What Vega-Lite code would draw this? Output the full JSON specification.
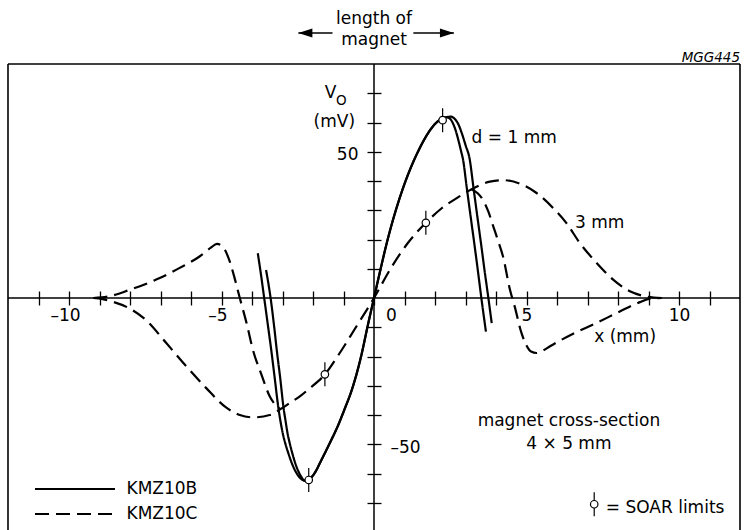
{
  "$schema": "https://vega.github.io/schema/vega-lite/v6.json",
  "width": 732,
  "height": 466,
  "autosize": {"type": "none"},
  "padding": {"left": 8, "top": 64, "right": 4, "bottom": 0},
  "background": "white",
  "config": {
    "font": "DejaVu Sans",
    "view": {"stroke": null},
    "text": {"font": "DejaVu Sans", "fontSize": 17, "color": "black"},
    "axis": {
      "domain": false, "grid": false, "title": null,
      "tickSize": 14, "tickWidth": 1.3, "tickColor": "black",
      "labelFont": "DejaVu Sans", "labelFontSize": 17, "labelColor": "black",
      "labelOverlap": false, "labelBound": false, "labelFlush": false
    }
  },
  "datasets": {
    "curves": [
      {"s":"B1","t":"KMZ10B","x":-3.81,"y":15.3},{"s":"B1","t":"KMZ10B","x":-3.70,"y":7.6},{"s":"B1","t":"KMZ10B","x":-3.60,"y":0},{"s":"B1","t":"KMZ10B","x":-3.48,"y":-9.2},{"s":"B1","t":"KMZ10B","x":-3.36,"y":-18.5},{"s":"B1","t":"KMZ10B","x":-3.25,"y":-27.8},{"s":"B1","t":"KMZ10B","x":-3.14,"y":-37.2},{"s":"B1","t":"KMZ10B","x":-3.06,"y":-42.5},{"s":"B1","t":"KMZ10B","x":-2.98,"y":-46.8},{"s":"B1","t":"KMZ10B","x":-2.90,"y":-50.0},{"s":"B1","t":"KMZ10B","x":-2.81,"y":-53.0},{"s":"B1","t":"KMZ10B","x":-2.70,"y":-56.3},{"s":"B1","t":"KMZ10B","x":-2.57,"y":-59.3},{"s":"B1","t":"KMZ10B","x":-2.43,"y":-61.4},{"s":"B1","t":"KMZ10B","x":-2.28,"y":-62.4},
      {"s":"B1","t":"KMZ10B","x":-2.13,"y":-62.0},{"s":"B1","t":"KMZ10B","x":-1.95,"y":-59.9},{"s":"B1","t":"KMZ10B","x":-1.73,"y":-55.5},{"s":"B1","t":"KMZ10B","x":-1.45,"y":-49.6},{"s":"B1","t":"KMZ10B","x":-1.18,"y":-43.6},{"s":"B1","t":"KMZ10B","x":-0.95,"y":-37.6},{"s":"B1","t":"KMZ10B","x":-0.74,"y":-31.8},{"s":"B1","t":"KMZ10B","x":-0.42,"y":-19.8},{"s":"B1","t":"KMZ10B","x":-0.2,"y":-9.2},{"s":"B1","t":"KMZ10B","x":0,"y":0},{"s":"B1","t":"KMZ10B","x":0.2,"y":9.2},{"s":"B1","t":"KMZ10B","x":0.46,"y":20.5},{"s":"B1","t":"KMZ10B","x":0.79,"y":32.5},{"s":"B1","t":"KMZ10B","x":1.0,"y":39.0},{"s":"B1","t":"KMZ10B","x":1.22,"y":44.9},{"s":"B1","t":"KMZ10B","x":1.45,"y":50.2},{"s":"B1","t":"KMZ10B","x":1.66,"y":54.4},{"s":"B1","t":"KMZ10B","x":1.86,"y":57.7},{"s":"B1","t":"KMZ10B","x":2.05,"y":60.0},{"s":"B1","t":"KMZ10B","x":2.21,"y":61.2},{"s":"B1","t":"KMZ10B","x":2.37,"y":61.8},
      {"s":"B1","t":"KMZ10B","x":2.52,"y":62.0},{"s":"B1","t":"KMZ10B","x":2.65,"y":61.2},{"s":"B1","t":"KMZ10B","x":2.77,"y":59.3},{"s":"B1","t":"KMZ10B","x":2.88,"y":56.3},{"s":"B1","t":"KMZ10B","x":3.0,"y":52.3},{"s":"B1","t":"KMZ10B","x":3.14,"y":47.3},{"s":"B1","t":"KMZ10B","x":3.26,"y":37.8},{"s":"B1","t":"KMZ10B","x":3.38,"y":28.5},{"s":"B1","t":"KMZ10B","x":3.50,"y":19.3},{"s":"B1","t":"KMZ10B","x":3.62,"y":9.8},{"s":"B1","t":"KMZ10B","x":3.75,"y":0},{"s":"B1","t":"KMZ10B","x":3.86,"y":-8.6},

      {"s":"B2","t":"KMZ10B","x":-3.54,"y":9.6},{"s":"B2","t":"KMZ10B","x":-3.46,"y":4.8},{"s":"B2","t":"KMZ10B","x":-3.39,"y":0},{"s":"B2","t":"KMZ10B","x":-3.28,"y":-9.2},{"s":"B2","t":"KMZ10B","x":-3.18,"y":-18.5},{"s":"B2","t":"KMZ10B","x":-3.07,"y":-27.8},{"s":"B2","t":"KMZ10B","x":-2.97,"y":-37.2},{"s":"B2","t":"KMZ10B","x":-2.90,"y":-42.0},{"s":"B2","t":"KMZ10B","x":-2.83,"y":-46.5},{"s":"B2","t":"KMZ10B","x":-2.76,"y":-49.8},{"s":"B2","t":"KMZ10B","x":-2.68,"y":-53.0},{"s":"B2","t":"KMZ10B","x":-2.59,"y":-56.2},{"s":"B2","t":"KMZ10B","x":-2.49,"y":-59.0},{"s":"B2","t":"KMZ10B","x":-2.38,"y":-61.2},{"s":"B2","t":"KMZ10B","x":-2.28,"y":-62.4},
      {"s":"B2","t":"KMZ10B","x":-2.13,"y":-62.0},{"s":"B2","t":"KMZ10B","x":-1.95,"y":-59.9},{"s":"B2","t":"KMZ10B","x":-1.73,"y":-55.5},{"s":"B2","t":"KMZ10B","x":-1.45,"y":-49.6},{"s":"B2","t":"KMZ10B","x":-1.18,"y":-43.6},{"s":"B2","t":"KMZ10B","x":-0.95,"y":-37.6},{"s":"B2","t":"KMZ10B","x":-0.74,"y":-31.8},{"s":"B2","t":"KMZ10B","x":-0.42,"y":-19.8},{"s":"B2","t":"KMZ10B","x":-0.2,"y":-9.2},{"s":"B2","t":"KMZ10B","x":0,"y":0},{"s":"B2","t":"KMZ10B","x":0.2,"y":9.2},{"s":"B2","t":"KMZ10B","x":0.46,"y":20.5},{"s":"B2","t":"KMZ10B","x":0.79,"y":32.5},{"s":"B2","t":"KMZ10B","x":1.0,"y":39.0},{"s":"B2","t":"KMZ10B","x":1.22,"y":44.9},{"s":"B2","t":"KMZ10B","x":1.45,"y":50.2},{"s":"B2","t":"KMZ10B","x":1.66,"y":54.4},{"s":"B2","t":"KMZ10B","x":1.86,"y":57.7},{"s":"B2","t":"KMZ10B","x":2.05,"y":60.0},{"s":"B2","t":"KMZ10B","x":2.21,"y":61.2},{"s":"B2","t":"KMZ10B","x":2.37,"y":61.8},
      {"s":"B2","t":"KMZ10B","x":2.48,"y":61.4},{"s":"B2","t":"KMZ10B","x":2.58,"y":59.9},{"s":"B2","t":"KMZ10B","x":2.68,"y":57.2},{"s":"B2","t":"KMZ10B","x":2.78,"y":53.4},{"s":"B2","t":"KMZ10B","x":2.86,"y":50.0},{"s":"B2","t":"KMZ10B","x":2.92,"y":47.3},{"s":"B2","t":"KMZ10B","x":3.04,"y":37.8},{"s":"B2","t":"KMZ10B","x":3.16,"y":28.5},{"s":"B2","t":"KMZ10B","x":3.28,"y":19.3},{"s":"B2","t":"KMZ10B","x":3.40,"y":9.8},{"s":"B2","t":"KMZ10B","x":3.52,"y":0},{"s":"B2","t":"KMZ10B","x":3.67,"y":-11.5},

      {"s":"D1","t":"KMZ10C","x":-9.2,"y":0},{"s":"D1","t":"KMZ10C","x":-8.9,"y":-0.4},{"s":"D1","t":"KMZ10C","x":-8.56,"y":-1.3},{"s":"D1","t":"KMZ10C","x":-8.01,"y":-3.6},{"s":"D1","t":"KMZ10C","x":-7.47,"y":-7.6},{"s":"D1","t":"KMZ10C","x":-6.81,"y":-15.4},{"s":"D1","t":"KMZ10C","x":-6.15,"y":-23.4},{"s":"D1","t":"KMZ10C","x":-5.5,"y":-30.8},{"s":"D1","t":"KMZ10C","x":-4.84,"y":-37.5},{"s":"D1","t":"KMZ10C","x":-4.4,"y":-40.0},{"s":"D1","t":"KMZ10C","x":-3.97,"y":-40.8},{"s":"D1","t":"KMZ10C","x":-3.42,"y":-40.0},{"s":"D1","t":"KMZ10C","x":-3.04,"y":-37.8},{"s":"D1","t":"KMZ10C","x":-2.75,"y":-35.8},{"s":"D1","t":"KMZ10C","x":-2.4,"y":-33.4},{"s":"D1","t":"KMZ10C","x":-2.16,"y":-31.3},{"s":"D1","t":"KMZ10C","x":-1.61,"y":-26.1},{"s":"D1","t":"KMZ10C","x":-1.18,"y":-19.7},{"s":"D1","t":"KMZ10C","x":-0.63,"y":-10.6},{"s":"D1","t":"KMZ10C","x":0,"y":0},{"s":"D1","t":"KMZ10C","x":0.57,"y":10.5},{"s":"D1","t":"KMZ10C","x":1.11,"y":18.8},{"s":"D1","t":"KMZ10C","x":1.7,"y":25.7},{"s":"D1","t":"KMZ10C","x":2.21,"y":30.6},{"s":"D1","t":"KMZ10C","x":2.75,"y":34.4},{"s":"D1","t":"KMZ10C","x":3.2,"y":37.2},{"s":"D1","t":"KMZ10C","x":3.8,"y":39.8},{"s":"D1","t":"KMZ10C","x":4.23,"y":40.3},{"s":"D1","t":"KMZ10C","x":4.78,"y":39.1},{"s":"D1","t":"KMZ10C","x":5.33,"y":35.9},{"s":"D1","t":"KMZ10C","x":5.87,"y":30.8},{"s":"D1","t":"KMZ10C","x":6.31,"y":25.6},{"s":"D1","t":"KMZ10C","x":6.75,"y":18.8},{"s":"D1","t":"KMZ10C","x":7.3,"y":12.0},{"s":"D1","t":"KMZ10C","x":7.84,"y":6.3},{"s":"D1","t":"KMZ10C","x":8.39,"y":2.3},{"s":"D1","t":"KMZ10C","x":8.94,"y":0.5},{"s":"D1","t":"KMZ10C","x":9.43,"y":0},

      {"s":"D2","t":"KMZ10C","x":-9.2,"y":0},{"s":"D2","t":"KMZ10C","x":-8.72,"y":0.5},{"s":"D2","t":"KMZ10C","x":-8.01,"y":2.8},{"s":"D2","t":"KMZ10C","x":-7.14,"y":6.3},{"s":"D2","t":"KMZ10C","x":-6.37,"y":10.3},{"s":"D2","t":"KMZ10C","x":-5.72,"y":14.2},{"s":"D2","t":"KMZ10C","x":-5.35,"y":17.2},{"s":"D2","t":"KMZ10C","x":-5.15,"y":18.5},{"s":"D2","t":"KMZ10C","x":-5.0,"y":18.0},{"s":"D2","t":"KMZ10C","x":-4.88,"y":16.3},{"s":"D2","t":"KMZ10C","x":-4.73,"y":12.5},{"s":"D2","t":"KMZ10C","x":-4.57,"y":6.8},{"s":"D2","t":"KMZ10C","x":-4.4,"y":0},{"s":"D2","t":"KMZ10C","x":-4.18,"y":-8.5},{"s":"D2","t":"KMZ10C","x":-3.97,"y":-17.7},{"s":"D2","t":"KMZ10C","x":-3.69,"y":-26.2},{"s":"D2","t":"KMZ10C","x":-3.42,"y":-33.6},{"s":"D2","t":"KMZ10C","x":-3.08,"y":-37.9},

      {"s":"D3","t":"KMZ10C","x":3.2,"y":37.2},{"s":"D3","t":"KMZ10C","x":3.4,"y":35.8},{"s":"D3","t":"KMZ10C","x":3.58,"y":33.4},{"s":"D3","t":"KMZ10C","x":3.75,"y":29.5},{"s":"D3","t":"KMZ10C","x":3.91,"y":24.5},{"s":"D3","t":"KMZ10C","x":4.07,"y":19.5},{"s":"D3","t":"KMZ10C","x":4.23,"y":14.2},{"s":"D3","t":"KMZ10C","x":4.45,"y":3.2},{"s":"D3","t":"KMZ10C","x":4.62,"y":-3.2},{"s":"D3","t":"KMZ10C","x":4.84,"y":-12.1},{"s":"D3","t":"KMZ10C","x":5.0,"y":-16.2},{"s":"D3","t":"KMZ10C","x":5.15,"y":-18.3},{"s":"D3","t":"KMZ10C","x":5.33,"y":-18.8},{"s":"D3","t":"KMZ10C","x":5.55,"y":-17.9},{"s":"D3","t":"KMZ10C","x":5.77,"y":-16.5},{"s":"D3","t":"KMZ10C","x":6.53,"y":-12.2},{"s":"D3","t":"KMZ10C","x":7.3,"y":-8.5},{"s":"D3","t":"KMZ10C","x":8.06,"y":-4.6},{"s":"D3","t":"KMZ10C","x":8.72,"y":-1.4},{"s":"D3","t":"KMZ10C","x":9.05,"y":-0.2},{"s":"D3","t":"KMZ10C","x":9.43,"y":0}
    ],
    "soar": [
      {"x": 2.25, "y": 60.8},
      {"x": -2.14, "y": -62.2},
      {"x": 1.70, "y": 25.7},
      {"x": -1.61, "y": -26.1},
      {"x": 7.22, "y": -70.5}
    ],
    "textCenter": [
      {"text": "length of", "x": 0, "y": 93.7},
      {"text": "magnet", "x": 0, "y": 86.5},
      {"text": "magnet cross-section", "x": 6.39, "y": -43.8},
      {"text": "4 × 5 mm", "x": 6.39, "y": -51.7}
    ],
    "textLeft": [
      {"text": "d = 1 mm", "x": 3.2, "y": 52.9},
      {"text": "3 mm", "x": 6.59, "y": 23.8},
      {"text": "x (mm)", "x": 7.22, "y": -15.0},
      {"text": "= SOAR limits", "x": 7.6, "y": -73.4}
    ],
    "textRight": [
      {"text": "V", "x": -1.23, "y": 68.4},
      {"text": "(mV)", "x": -0.62, "y": 58.5}
    ],
    "textSub": [
      {"text": "O", "x": -1.25, "y": 66.0}
    ],
    "textCode": [
      {"text": "MGG445", "x": 12, "y": 80.7}
    ],
    "arrows": [
      {"x": -2.48, "xe": -1.36, "y": 90.6, "dir": "left"},
      {"x": 2.62, "xe": 1.29, "y": 90.6, "dir": "right"}
    ]
  },
  "layer": [
    {
      "data": {"name": "curves"},
      "mark": {"type": "line", "color": "black", "strokeWidth": 2.2, "interpolate": "monotone", "strokeCap": "butt"},
      "encoding": {
        "x": {
          "field": "x", "type": "quantitative",
          "scale": {"domain": [-12, 12], "nice": false, "zero": false},
          "axis": {
            "orient": "bottom", "offset": -239, "domain": false, "grid": false, "title": null,
            "values": [-11,-10,-9,-8,-7,-6,-5,-4,-3,-2,-1,0,1,2,3,4,5,6,7,8,9,10,11],
            "tickCount": 100,
            "tickSize": 14, "tickWidth": 1.3, "tickColor": "black",
            "labelExpr": "datum.value == -10 ? '–10' : datum.value == -5 ? '–5' : datum.value == 0 ? '0' : datum.value == 5 ? '5' : datum.value == 10 ? '10' : ''",
            "labelFont": "DejaVu Sans", "labelFontSize": 17, "labelColor": "black",
            "labelPadding": 2, "labelAngle": 0, "labelFlush": false, "labelOverlap": false, "labelBound": false,
            "labelOffset": {"condition": [{"test": "datum.value == 0", "value": 17}, {"test": "datum.value < 0", "value": -4}], "value": 0}
          }
        },
        "y": {
          "field": "y", "type": "quantitative",
          "scale": {"domain": [-79.3, 80], "nice": false, "zero": false},
          "axis": {
            "orient": "left", "offset": -373, "domain": false, "grid": false, "title": null,
            "values": [-70,-60,-50,-40,-30,-20,-10,10,20,30,40,50,60,70],
            "tickCount": 100,
            "tickSize": 14, "tickWidth": 1.3, "tickColor": "black",
            "labelExpr": "datum.value == 50 ? '50' : datum.value == -50 ? '–50' : ''",
            "labelFont": "DejaVu Sans", "labelFontSize": 17, "labelColor": "black",
            "labelBaseline": "middle", "labelOffset": 3, "labelOverlap": false, "labelBound": false, "labelFlush": false,
            "labelAlign": {"condition": {"test": "datum.value < 0", "value": "left"}, "value": "right"},
            "labelPadding": {"condition": {"test": "datum.value < 0", "value": -23}, "value": 9}
          }
        },
        "detail": {"field": "s", "type": "nominal"},
        "strokeDash": {
          "field": "t", "type": "nominal",
          "scale": {"domain": ["KMZ10B", "KMZ10C"], "range": [[1, 0], [14, 7]]},
          "legend": {
            "title": null, "orient": "none", "legendX": 58.5, "legendY": 416.5,
            "symbolType": "M-10,0L10,0", "symbolSize": 64, "symbolStrokeWidth": 2.2,
            "symbolStrokeColor": "black", "symbolFillColor": "transparent",
            "labelFont": "DejaVu Sans", "labelFontSize": 17,
            "labelColor": "black", "labelOffset": 43, "padding": 0, "rowPadding": 7
          }
        }
      }
    },
    {
      "data": {"values": [{}]},
      "mark": {"type": "rule", "color": "black", "strokeWidth": 1.6},
      "encoding": {"x": {"datum": -12, "type": "quantitative"}}
    },
    {
      "data": {"values": [{}]},
      "mark": {"type": "rule", "color": "black", "strokeWidth": 1.6},
      "encoding": {"x": {"datum": 12, "type": "quantitative"}}
    },
    {
      "data": {"values": [{}]},
      "mark": {"type": "rule", "color": "black", "strokeWidth": 1.6},
      "encoding": {"y": {"datum": 80, "type": "quantitative"}}
    },
    {
      "data": {"values": [{}]},
      "mark": {"type": "rule", "color": "black", "strokeWidth": 1.5},
      "encoding": {"x": {"datum": 0, "type": "quantitative"}}
    },
    {
      "data": {"values": [{}]},
      "mark": {"type": "rule", "color": "black", "strokeWidth": 1.5},
      "encoding": {"y": {"datum": 0, "type": "quantitative"}}
    },
    {
      "data": {"name": "arrows"},
      "mark": {"type": "rule", "color": "black", "strokeWidth": 1.5},
      "encoding": {
        "x": {"field": "x", "type": "quantitative"},
        "x2": {"field": "xe"},
        "y": {"field": "y", "type": "quantitative"}
      }
    },
    {
      "data": {"name": "arrows"},
      "mark": {"type": "point", "filled": true, "color": "black", "opacity": 1, "size": 196, "strokeWidth": 0},
      "encoding": {
        "x": {"field": "x", "type": "quantitative"},
        "y": {"field": "y", "type": "quantitative"},
        "shape": {"field": "dir", "type": "nominal", "scale": {"domain": ["left", "right"], "range": ["M0,0L2,-0.64L2,0.64Z", "M0,0L-2,-0.64L-2,0.64Z"]}, "legend": null}
      }
    },
    {
      "data": {"name": "textCenter"},
      "mark": {"type": "text", "align": "center", "baseline": "alphabetic", "font": "DejaVu Sans", "fontSize": 17, "color": "black"},
      "encoding": {
        "x": {"field": "x", "type": "quantitative"},
        "y": {"field": "y", "type": "quantitative"},
        "text": {"field": "text"}
      }
    },
    {
      "data": {"name": "textLeft"},
      "mark": {"type": "text", "align": "left", "baseline": "alphabetic", "font": "DejaVu Sans", "fontSize": 17, "color": "black"},
      "encoding": {
        "x": {"field": "x", "type": "quantitative"},
        "y": {"field": "y", "type": "quantitative"},
        "text": {"field": "text"}
      }
    },
    {
      "data": {"name": "textRight"},
      "mark": {"type": "text", "align": "right", "baseline": "alphabetic", "font": "DejaVu Sans", "fontSize": 17, "color": "black"},
      "encoding": {
        "x": {"field": "x", "type": "quantitative"},
        "y": {"field": "y", "type": "quantitative"},
        "text": {"field": "text"}
      }
    },
    {
      "data": {"name": "textSub"},
      "mark": {"type": "text", "align": "left", "baseline": "alphabetic", "font": "DejaVu Sans", "fontSize": 13.5, "color": "black"},
      "encoding": {
        "x": {"field": "x", "type": "quantitative"},
        "y": {"field": "y", "type": "quantitative"},
        "text": {"field": "text"}
      }
    },
    {
      "data": {"name": "textCode"},
      "mark": {"type": "text", "align": "right", "baseline": "alphabetic", "font": "DejaVu Sans", "fontSize": 13.5, "fontStyle": "italic", "color": "black"},
      "encoding": {
        "x": {"field": "x", "type": "quantitative"},
        "y": {"field": "y", "type": "quantitative"},
        "text": {"field": "text"}
      }
    },
    {
      "data": {"name": "soar"},
      "mark": {"type": "point", "shape": "M0,-1L0,1", "size": 576, "filled": false, "stroke": "black", "strokeWidth": 1.2, "opacity": 1},
      "encoding": {
        "x": {"field": "x", "type": "quantitative"},
        "y": {"field": "y", "type": "quantitative"}
      }
    },
    {
      "data": {"name": "soar"},
      "mark": {"type": "point", "shape": "circle", "size": 56, "filled": true, "fill": "white", "stroke": "black", "strokeWidth": 1.2, "opacity": 1},
      "encoding": {
        "x": {"field": "x", "type": "quantitative"},
        "y": {"field": "y", "type": "quantitative"}
      }
    }
  ]
}
